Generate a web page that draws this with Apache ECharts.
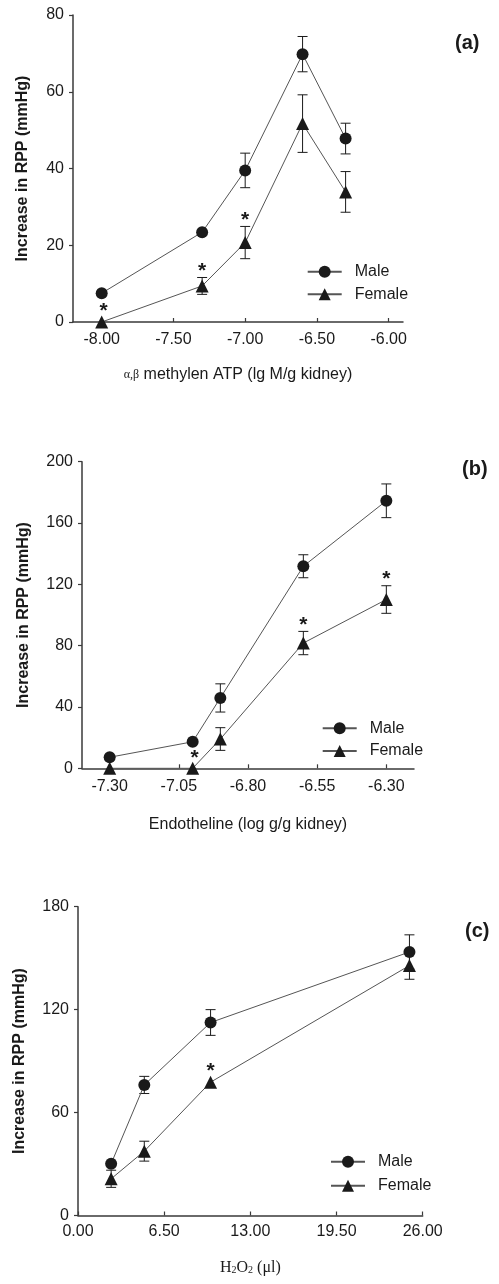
<!DOCTYPE html>
<html>
<head>
<meta charset="utf-8">
<script src="https://cdn.jsdelivr.net/npm/echarts@6/dist/echarts.min.js"></script>
<style>
html,body{margin:0;padding:0;background:#fff;}
#chart{width:499px;height:1284px;}
</style>
</head>
<body>
<div id="chart"></div>
<script>
// ---------- Panel (a): alpha,beta methylen ATP ----------
const xA = [-8.0, -7.3, -7.0, -6.6, -6.3];
const maleA = [7.5, 23.4, 39.5, 69.8, 47.8];
const maleErrA = [0, 0, 4.5, 4.6, 4.0];
const femaleA = [0, 9.4, 20.7, 51.7, 33.9];
const femaleErrA = [0, 2.2, 4.2, 7.5, 5.3];
const sigA = [1, 1, 1, 0, 0];
const xTicksA = [-8.0, -7.5, -7.0, -6.5, -6.0];

// ---------- Panel (b): Endotheline ----------
const xB = [-7.3, -7.0, -6.9, -6.6, -6.3];
const maleB = [7.2, 17.3, 45.9, 131.8, 174.5];
const maleErrB = [0, 0, 9.2, 7.5, 11];
const femaleB = [0, 0, 19.1, 81.7, 110.1];
const femaleErrB = [0, 0, 7.4, 7.6, 9];
const sigB = [0, 1, 0, 1, 1];
const xTicksB = [-7.3, -7.05, -6.8, -6.55, -6.3];

// ---------- Panel (c): H2O2 ----------
const xC = [2.5, 5, 10, 25];
const maleC = [30.2, 76.1, 112.5, 153.6];
const maleErrC = [0, 5, 7.5, 10];
const femaleC = [21.4, 37.5, 77.7, 145.7];
const femaleErrC = [5, 5.8, 0, 8];
const sigC = [0, 0, 1, 0];

const seriesNames = ['Male', 'Female'];
const panelLabels = ['(a)', '(b)', '(c)'];
const yTitle = 'Increase in RPP (mmHg)';

const FONT = 'Liberation Sans';
const INK = '#1a1a1a';
const AXIS = '#3a3a3a';

const chart = echarts.init(document.getElementById('chart'), null, {renderer: 'canvas'});

function errRender(params, api) {
  const x = api.value(0), y = api.value(1), e = api.value(2);
  if (!e) return null;
  const t = api.coord([x, y + e]);
  const b = api.coord([x, Math.max(0, y - e)]);
  const w = 5;
  const st = {stroke: INK, lineWidth: 1};
  return {type: 'group', children: [
    {type: 'line', shape: {x1: t[0], y1: t[1], x2: b[0], y2: b[1]}, style: st},
    {type: 'line', shape: {x1: t[0] - w, y1: t[1], x2: t[0] + w, y2: t[1]}, style: st},
    {type: 'line', shape: {x1: b[0] - w, y1: b[1], x2: b[0] + w, y2: b[1]}, style: st}
  ]};
}
function starRender(params, api) {
  const x = api.value(0), y = api.value(1), e = api.value(2), s = api.value(3);
  if (!s) return null;
  const p = api.coord([x, y + e]);
  const onAxis = (y === 0);
  return {type: 'text', x: p[0] + (onAxis ? 2 : 0), y: p[1] + (e ? 4 : 0),
    style: {text: '*', font: 'bold 21px ' + FONT, fill: INK, align: 'center', verticalAlign: 'bottom'}};
}

function buildPanel(i, xs, male, maleErr, female, femaleErr, sig) {
  const lineStyle = {color: '#555', width: 1};
  return [
    {type: 'custom', xAxisIndex: i, yAxisIndex: i, renderItem: errRender, encode: {x: 0, y: 1},
      data: xs.map((x, k) => [x, male[k], maleErr[k]]), z: 1, silent: true},
    {type: 'custom', xAxisIndex: i, yAxisIndex: i, renderItem: errRender, encode: {x: 0, y: 1},
      data: xs.map((x, k) => [x, female[k], femaleErr[k]]), z: 1, silent: true},
    {name: seriesNames[0], type: 'line', xAxisIndex: i, yAxisIndex: i, symbol: 'circle', symbolSize: 12,
      lineStyle: lineStyle, itemStyle: {color: INK}, z: 3, animation: false,
      data: xs.map((x, k) => [x, male[k]])},
    {name: seriesNames[1], type: 'line', xAxisIndex: i, yAxisIndex: i, symbol: 'triangle', symbolSize: 13,
      lineStyle: lineStyle, itemStyle: {color: INK}, z: 3, animation: false,
      data: xs.map((x, k) => [x, female[k]])},
    {type: 'custom', xAxisIndex: i, yAxisIndex: i, renderItem: starRender, encode: {x: 0, y: 1},
      data: xs.map((x, k) => [x, female[k], femaleErr[k], sig[k]]), z: 4, silent: true}
  ];
}

const tickLabel = {color: INK, fontFamily: FONT, fontSize: 16};
const axisLine = {show: true, lineStyle: {color: AXIS, width: 1.5}};

function xAxis(i, min, max, ticks, name, nameGap, margin, interval, richName) {
  const ax = {
    type: 'value', gridIndex: i, min: min, max: max,
    axisLine: axisLine, splitLine: {show: false},
    axisTick: {show: true, inside: true, length: 4, lineStyle: {color: AXIS, width: 1.2}},
    axisLabel: Object.assign({margin: margin, formatter: v => v.toFixed(2)}, tickLabel),
    name: name, nameLocation: 'middle', nameGap: nameGap,
    nameTextStyle: Object.assign({color: INK, fontFamily: FONT, fontSize: 16}, richName || {})
  };
  if (ticks) {
    ax.axisTick.customValues = ticks;
    ax.axisLabel.customValues = ticks;
  } else {
    ax.interval = interval;
  }
  return ax;
}
function yAxis(i, max, interval, nameGap) {
  return {
    type: 'value', gridIndex: i, min: 0, max: max, interval: interval,
    axisLine: axisLine, splitLine: {show: false},
    axisTick: {show: true, inside: false, length: 4, lineStyle: {color: AXIS, width: 1.2}},
    axisLabel: Object.assign({margin: 9}, tickLabel),
    name: yTitle, nameLocation: 'middle', nameRotate: 90, nameGap: nameGap,
    nameTextStyle: {color: INK, fontFamily: FONT, fontSize: 16, fontWeight: 'bold'}
  };
}

const legendBase = {
  orient: 'vertical', itemWidth: 34, itemHeight: 15, itemGap: 6.6,
  data: seriesNames, selectedMode: false,
  textStyle: {color: INK, fontFamily: FONT, fontSize: 16, lineHeight: 16, padding: [0, 0, 0, 8]}
};

const option = {
  backgroundColor: '#fff',
  animation: false,
  grid: [
    {left: 73, top: 15, width: 330, height: 307},
    {left: 82, top: 461.7, width: 332, height: 306.6},
    {left: 78, top: 906.7, width: 344.7, height: 308.8}
  ],
  xAxis: [
    xAxis(0, -8.2, -5.9, xTicksA, '{g|\u03b1,\u03b2} methylen ATP (lg M/g kidney)', 45, 10, null,
      {rich: {g: {fontFamily: 'Liberation Serif', fontSize: 12, color: INK}}}),
    xAxis(1, -7.4, -6.2, xTicksB, 'Endotheline (log g/g kidney)', 48, 10),
    xAxis(2, 0, 26, null, 'H{s|2}O{s|2} (\u03bcl)', 44, 8, 6.5,
      {fontFamily: 'Liberation Serif', fontSize: 16,
       rich: {s: {fontFamily: 'Liberation Serif', fontSize: 10, color: INK, verticalAlign: 'bottom', padding: [6, 0, 0, 0]}}})
  ],
  yAxis: [
    yAxis(0, 80, 20, 42.5),
    yAxis(1, 200, 40, 50.5),
    yAxis(2, 180, 60, 50)
  ],
  legend: [
    Object.assign({left: 301.7, top: 258.7}, legendBase),
    Object.assign({left: 316.7, top: 715.3}, legendBase),
    Object.assign({left: 325, top: 1148.7}, legendBase, {itemGap: 8})
  ],
  graphic: [
    {type: 'text', left: 455, top: 33, style: {text: panelLabels[0], font: 'bold 20px ' + FONT, fill: INK}},
    {type: 'text', left: 462, top: 459, style: {text: panelLabels[1], font: 'bold 20px ' + FONT, fill: INK}},
    {type: 'text', left: 465, top: 921, style: {text: panelLabels[2], font: 'bold 20px ' + FONT, fill: INK}}
  ],
  series: [].concat(
    buildPanel(0, xA, maleA, maleErrA, femaleA, femaleErrA, sigA),
    buildPanel(1, xB, maleB, maleErrB, femaleB, femaleErrB, sigB),
    buildPanel(2, xC, maleC, maleErrC, femaleC, femaleErrC, sigC)
  )
};
chart.setOption(option);
</script>
</body>
</html>
